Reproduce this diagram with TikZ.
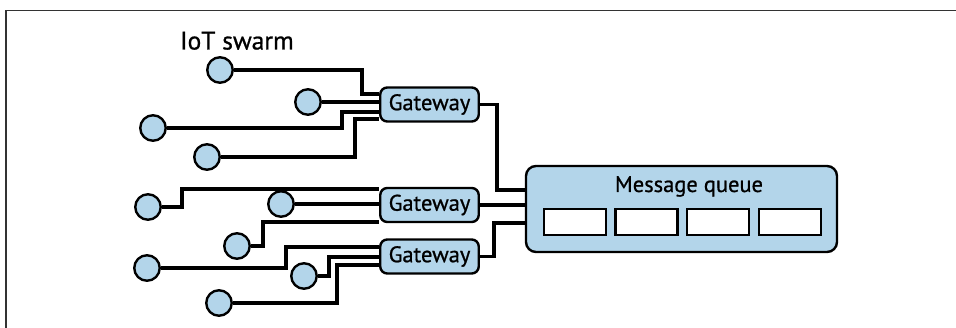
\documentclass[tikz,border=0pt]{standalone}
\usepackage{fontspec}
\setmainfont{PT Sans}
\newfontfamily\lblfont[FakeBold=0.8]{PT Sans}
\usetikzlibrary{backgrounds}
\definecolor{nodeblue}{RGB}{179,213,234}
\begin{document}
\begin{tikzpicture}[x=1pt,y=-1pt,
  wire/.style={line width=3.6pt, line join=miter},
  dev/.style={circle, draw, line width=2.4pt, fill=nodeblue, minimum size=25.5pt, inner sep=0pt},
  gw/.style={draw, line width=2.4pt, fill=nodeblue, rounded corners=7pt, minimum width=98.5pt, minimum height=34pt, inner sep=0pt, font=\lblfont\fontsize{22.5}{26}\selectfont},
  mqbox/.style={draw, line width=2.4pt, fill=nodeblue, rounded corners=10pt, minimum width=311pt, minimum height=86pt, inner sep=0pt},
  slot/.style={draw, line width=2.4pt, fill=white, minimum width=62pt, minimum height=26pt, inner sep=0pt},
  frame/.style={line width=1.5pt, black!80}]
\useasboundingbox (0,0) rectangle (956,328);
\draw[frame] (6,328) -- (6,10.5) -- (956,10.5);

\node[anchor=base west, inner sep=0pt, font=\lblfont\fontsize{25.5}{30}\selectfont] (title) at (180,49.5) {IoT swarm};

% gateways
\node[gw] (g1) at (429.5,104.5) {Gateway};
\node[gw] (g2) at (429.5,205) {Gateway};
\node[gw] (g3) at (429.5,256.5) {Gateway};

% message queue
\node[mqbox] (mq) at (681.5,209) {};
\node[anchor=base, inner sep=0pt, font=\lblfont\fontsize{22.5}{26}\selectfont] (mqt) at (689,192) {Message queue};
\node[slot] (s1) at (575,222) {};
\node[slot] (s2) at (646.5,222) {};
\node[slot] (s3) at (718,222) {};
\node[slot] (s4) at (790,222) {};

% devices
\node[dev] (c1) at (220,70) {};
\node[dev] (c2) at (308,102) {};
\node[dev] (c3) at (153,128) {};
\node[dev] (c4) at (207,157) {};
\node[dev] (c5) at (148,207) {};
\node[dev] (c6) at (281,204) {};
\node[dev] (c7) at (237,246) {};
\node[dev] (c8) at (147,268) {};
\node[dev] (c9) at (304,276) {};
\node[dev] (c10) at (219,303) {};

\begin{scope}[on background layer]
  \draw[wire] (c1) -- (362,70) |- ([yshift=10.5pt]g1.west);
  \draw[wire] (c2) -- (c2 -| g1.west);
  \draw[wire] (c3) -- (342,128) |- ([yshift=-7.5pt]g1.west);
  \draw[wire] (c4) -- (355,157) |- ([yshift=-14.5pt]g1.west);

  \draw[wire] (c5) -- (182,207) |- ([yshift=16pt]g2.west);
  \draw[wire] (c6) -- (c6 -| g2.west);
  \draw[wire] (c7) -- (263,246) |- ([yshift=-17pt]g2.west);

  \draw[wire] (c8) -- (286,268) |- ([yshift=9.5pt]g3.west);
  \draw[wire] (c9) -- (329,276) |- ([yshift=-0.5pt]g3.west);
  \draw[wire] (c10) -- (337,303) |- ([yshift=-8.5pt]g3.west);

  \draw[wire] (g1.east) -- (497,104.5) |- ([yshift=19pt]mq.west);
  \draw[wire] (g2.east) -- (g2.east -| mq.west);
  \draw[wire] (g3.east) -- (494,256.5) |- ([yshift=-14pt]mq.west);
\end{scope}
\end{tikzpicture}
\end{document}
